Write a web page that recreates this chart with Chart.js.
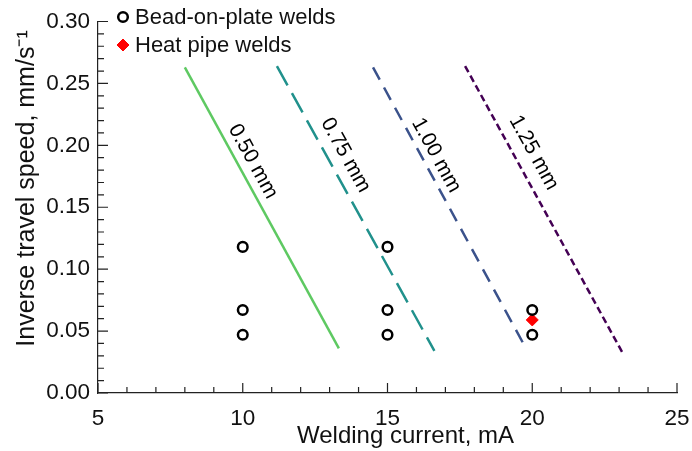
<!DOCTYPE html>
<html>
<head>
<meta charset="utf-8">
<script src="https://cdn.jsdelivr.net/npm/chart.js@4.4.0/dist/chart.umd.min.js"></script>
<style>
  html, body { margin: 0; padding: 0; background: #fff; }
  #wrap { width: 692px; height: 451px; }
</style>
</head>
<body>
<div id="wrap"><canvas id="chart" width="692" height="451"></canvas></div>
<script>
// welds (current in mA, inverse travel speed in mm/s-1)
const beadCurrent = [10, 10, 10, 15, 15, 15, 20, 20];
const beadSpeed = [0.118, 0.067, 0.047, 0.118, 0.067, 0.047, 0.067, 0.047];
const pipeCurrent = [20];
const pipeSpeed = [0.059];

// penetration depth lines (start, end)
const depthNames = ["0.50 mm", "0.75 mm", "1.00 mm", "1.25 mm"];
const depthCurrent = [[8.0, 13.32], [11.18, 16.62], [14.5, 19.76], [17.68, 23.13]];
const depthSpeed = [[0.263, 0.036], [0.264, 0.034], [0.263, 0.037], [0.264, 0.032]];

const xTicks = [5, 10, 15, 20, 25];
const yTicks = [0, 0.05, 0.1, 0.15, 0.2, 0.25, 0.3];

const FONT = "'Liberation Sans', Arial, sans-serif";
const depthColors = ["#5ec962", "#21918c", "#3b528b", "#440154"];
const depthDash = [[], [22, 9], [14, 9], [7, 4]];
// where the depth label sits (data units)
const depthLabelAt = [[10.35, 0.187], [13.55, 0.192], [16.68, 0.192], [20.05, 0.194]];

const datasets = [];
depthNames.forEach((name, i) => {
  datasets.push({
    label: name,
    data: depthCurrent[i].map((x, j) => ({ x: x, y: depthSpeed[i][j] })),
    showLine: true,
    borderColor: depthColors[i],
    borderWidth: 2.5,
    borderDash: depthDash[i],
    pointRadius: 0,
    fill: false,
  });
});
datasets.push({
  label: "Bead-on-plate welds",
  data: beadCurrent.map((x, i) => ({ x: x, y: beadSpeed[i] })),
  pointStyle: "circle",
  pointRadius: 4.8,
  borderColor: "#000",
  backgroundColor: "rgba(0,0,0,0)",
  borderWidth: 2.5,
});
datasets.push({
  label: "Heat pipe welds",
  data: pipeCurrent.map((x, i) => ({ x: x, y: pipeSpeed[i] })),
  pointStyle: "rectRot",
  pointRadius: 6,
  borderColor: "#ff0000",
  backgroundColor: "#ff0000",
  borderWidth: 1,
});

// inward ticks (major + minor)
const tickPlugin = {
  id: "inTicks",
  afterDraw(chart) {
    const ctx = chart.ctx;
    const a = chart.chartArea;
    const xs = chart.scales.x, ys = chart.scales.y;
    ctx.save();
    ctx.strokeStyle = "#222";
    ctx.lineWidth = 1.2;
    ctx.beginPath();
    for (let i = 0; i <= 20; i++) {
      const px = xs.getPixelForValue(5 + i);
      ctx.moveTo(px, a.bottom);
      ctx.lineTo(px, a.bottom - (i % 5 === 0 ? 10 : 6));
    }
    for (let i = 0; i <= 30; i++) {
      const py = ys.getPixelForValue(i / 100);
      ctx.moveTo(a.left, py);
      ctx.lineTo(a.left + (i % 5 === 0 ? 10 : 6), py);
    }
    ctx.stroke();
    ctx.restore();
  },
};

// rotated depth labels and legend
const notePlugin = {
  id: "notes",
  afterDatasetsDraw(chart) {
    const ctx = chart.ctx;
    const xs = chart.scales.x, ys = chart.scales.y;
    ctx.save();
    ctx.fillStyle = "#000";
    ctx.font = "21px " + FONT;
    ctx.textAlign = "center";
    ctx.textBaseline = "middle";
    depthNames.forEach((name, i) => {
      const x0 = xs.getPixelForValue(depthCurrent[i][0]);
      const y0 = ys.getPixelForValue(depthSpeed[i][0]);
      const x1 = xs.getPixelForValue(depthCurrent[i][1]);
      const y1 = ys.getPixelForValue(depthSpeed[i][1]);
      const ang = Math.atan2(y1 - y0, x1 - x0);
      ctx.save();
      ctx.translate(xs.getPixelForValue(depthLabelAt[i][0]), ys.getPixelForValue(depthLabelAt[i][1]));
      ctx.rotate(ang);
      ctx.fillText(name, 0, 0);
      ctx.restore();
    });

    const bead = chart.data.datasets[4];
    const pipe = chart.data.datasets[5];
    const rows = [[bead, 17], [pipe, 45]];
    ctx.font = "22px " + FONT;
    ctx.textAlign = "left";
    rows.forEach(([ds, y]) => {
      ctx.strokeStyle = ds.borderColor;
      ctx.fillStyle = ds.backgroundColor;
      ctx.lineWidth = ds.borderWidth;
      Chart.helpers.drawPoint(ctx, { pointStyle: ds.pointStyle, radius: ds.pointRadius, rotation: 0, borderWidth: ds.borderWidth }, 123, y);
      ctx.fillStyle = "#111";
      ctx.fillText(ds.label, 135, y + 1);
    });
    ctx.restore();
  },
};

new Chart(document.getElementById("chart"), {
  type: "scatter",
  data: { datasets: datasets },
  plugins: [notePlugin, tickPlugin],
  options: {
    responsive: false,
    animation: false,
    layout: { padding: { top: 17, right: 3, left: 0, bottom: 0 } },
    plugins: { legend: { display: false }, tooltip: { enabled: false } },
    scales: {
      x: {
        type: "linear",
        min: 5,
        max: 25,
        afterBuildTicks: (s) => { s.ticks = xTicks.map((v) => ({ value: v })); },
        afterFit: (s) => { s.height = 58; s.paddingRight = 15; s.paddingLeft = 0; },
        grid: { display: false, drawTicks: false },
        border: { display: true, color: "#222", width: 1.2 },
        ticks: { color: "#111", font: { family: FONT, size: 22.5 }, padding: 12, maxRotation: 0 },
        // en spaces push the title a little right, as in the original
        title: { display: true, text: "\u2002\u2002\u2002Welding current, mA", color: "#111", font: { family: FONT, size: 24 }, padding: 0 },
      },
      y: {
        type: "linear",
        min: 0,
        max: 0.3,
        afterBuildTicks: (s) => { s.ticks = yTicks.map((v) => ({ value: v })); },
        afterFit: (s) => { s.width = 98; },
        grid: { display: false, drawTicks: false },
        border: { display: true, color: "#222", width: 1.2 },
        ticks: { color: "#111", font: { family: FONT, size: 22.5 }, padding: 8, callback: (v) => Number(v).toFixed(2) },
        title: { display: true, text: "\u2002\u2002\u2002Inverse travel speed, mm/s\u207B\u00B9", color: "#111", font: { family: FONT, size: 25 }, padding: { top: 12, bottom: 0 } },
      },
    },
  },
});
</script>
</body>
</html>
